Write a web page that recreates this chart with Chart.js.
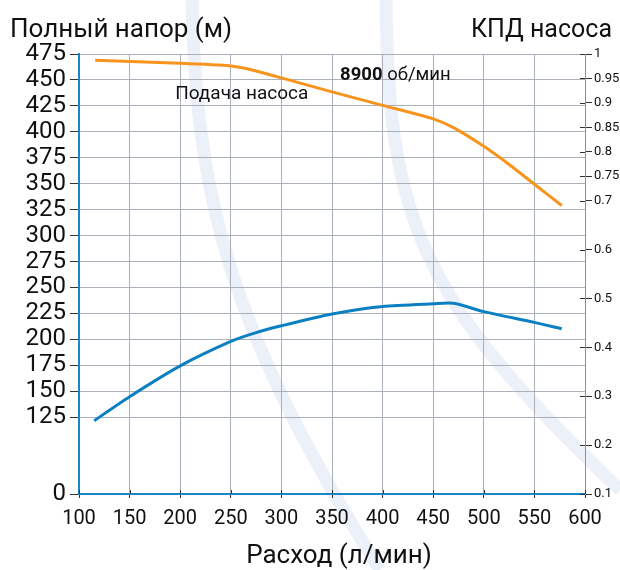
<!DOCTYPE html>
<html lang="ru">
<head>
<meta charset="UTF-8">
<title>Характеристика насоса</title>
<script src="https://cdn.jsdelivr.net/npm/chart.js"></script>
<style>
  html, body { margin: 0; padding: 0; background: #fff; }
  #wrap { width: 620px; height: 570px; }
</style>
</head>
<body>
<div id="wrap"><canvas id="pumpChart" width="620" height="570"></canvas></div>
<script>
// Подача насоса: расход (л/мин) -> полный напор (м)
const headFlow   = [116, 200, 250, 265, 300, 350, 400, 450, 470, 500, 525, 550, 577];
const headValues = [469, 466, 463.5, 461, 452, 438.5, 425.5, 412.5, 404, 386, 368.5, 349.5, 329];

// КПД насоса: расход (л/мин) -> КПД
const effFlow   = [115, 150, 200, 250, 275, 300, 350, 400, 450, 470, 500, 550, 577];
const effValues = [0.25, 0.299, 0.362, 0.412, 0.43, 0.444, 0.468, 0.4835, 0.489, 0.49, 0.473, 0.451, 0.438];

const flowTicks = [100, 150, 200, 250, 300, 350, 400, 450, 500, 550, 600];
const headTicks = [0, 125, 150, 175, 200, 225, 250, 275, 300, 325, 350, 375, 400, 425, 450, 475];
const effTicks  = [0.1, 0.2, 0.3, 0.4, 0.5, 0.6, 0.7, 0.75, 0.8, 0.85, 0.9, 0.95, 1];

// the head axis is broken: "0" sits at the bottom, right below 125
const HEAD_BREAK = 51;

const FONT = 'Roboto, "Noto Sans", sans-serif';
const GRID = '#aab0ba';
const AXIS_BLUE = '#1a86c8';

function toPoints(xs, ys) {
  return xs.map((x, i) => ({ x: x, y: ys[i] }));
}

// watermark, titles, labels and the inner half of the ticks
const decor = {
  id: 'decor',
  beforeDraw(chart) {
    const ctx = chart.ctx;
    ctx.save();
    ctx.strokeStyle = '#ecf0f9';
    ctx.lineWidth = 13;
    ctx.beginPath();
    ctx.moveTo(192, 0);
    ctx.bezierCurveTo(196, 200, 230, 330, 380, 570);
    ctx.stroke();
    ctx.beginPath();
    ctx.moveTo(386, 0);
    ctx.bezierCurveTo(388, 220, 420, 300, 620, 490);
    ctx.stroke();
    ctx.restore();
  },
  afterDraw(chart) {
    const ctx = chart.ctx;
    const x = chart.scales.x, yL = chart.scales.y, yR = chart.scales.y1;
    ctx.save();

    ctx.strokeStyle = '#333';
    ctx.lineWidth = 1;
    ctx.beginPath();
    effTicks.forEach(v => {
      const py = Math.round(yR.getPixelForValue(v)) + 0.5;
      ctx.moveTo(yR.left - 5, py);
      ctx.lineTo(yR.left, py);
    });
    flowTicks.forEach(v => {
      const px = Math.round(x.getPixelForValue(v)) + 0.5;
      ctx.moveTo(px, x.top - 4);
      ctx.lineTo(px, x.top);
    });
    ctx.stroke();

    ctx.fillStyle = '#111';
    ctx.textBaseline = 'alphabetic';
    ctx.font = '26px ' + FONT;
    ctx.textAlign = 'left';
    ctx.fillText('Полный напор (м)', 10, 37);
    ctx.font = '25px ' + FONT;
    ctx.textAlign = 'right';
    ctx.fillText('КПД насоса', 612, 37);
    ctx.font = '26px ' + FONT;
    ctx.textAlign = 'center';
    ctx.fillText('Расход (л/мин)', 339, 563);

    ctx.textAlign = 'left';
    ctx.font = 'bold 18.5px ' + FONT;
    const sx = x.getPixelForValue(358), sy = yL.getPixelForValue(450);
    ctx.fillText('8900', sx, sy);
    const w = ctx.measureText('8900').width;
    ctx.font = '18.5px ' + FONT;
    ctx.fillText(' об/мин', sx + w, sy);

    ctx.font = '19px ' + FONT;
    ctx.fillText('Подача насоса', x.getPixelForValue(195), yL.getPixelForValue(432));
    ctx.restore();
  }
};

new Chart(document.getElementById('pumpChart'), {
  type: 'line',
  data: {
    datasets: [
      {
        label: 'Полный напор',
        data: toPoints(headFlow, headValues),
        yAxisID: 'y',
        borderColor: '#f7941d',
        borderWidth: 3,
        pointRadius: 0,
        tension: 0.25
      },
      {
        label: 'КПД насоса',
        data: toPoints(effFlow, effValues),
        yAxisID: 'y1',
        borderColor: '#0a80c3',
        borderWidth: 3,
        pointRadius: 0,
        tension: 0.25
      }
    ]
  },
  options: {
    responsive: false,
    animation: false,
    layout: { padding: { top: 54, left: 0, right: 0, bottom: 0 } },
    plugins: {
      legend: { display: false },
      tooltip: { enabled: false }
    },
    scales: {
      x: {
        type: 'linear',
        min: 100,
        max: 600,
        afterBuildTicks: s => { s.ticks = flowTicks.map(v => ({ value: v })); },
        afterFit: s => { s.height = 76; },
        grid: { color: GRID, tickColor: '#333', tickLength: 4 },
        border: { color: AXIS_BLUE, width: 2 },
        ticks: { color: '#111', font: { family: FONT, size: 20 }, padding: 9, maxRotation: 0, autoSkip: false }
      },
      y: {
        type: 'linear',
        position: 'left',
        min: HEAD_BREAK,
        max: 475,
        afterBuildTicks: s => {
          s.ticks = headTicks.map(v => ({ value: v === 0 ? HEAD_BREAK : v }));
        },
        afterFit: s => { s.width = 79; },
        grid: { color: GRID, tickColor: '#333', tickLength: 9 },
        border: { color: AXIS_BLUE, width: 2 },
        ticks: {
          color: '#111',
          font: { family: FONT, size: 24 },
          padding: 4,
          autoSkip: false,
          callback: v => (v === HEAD_BREAK ? '0' : String(v))
        }
      },
      y1: {
        type: 'linear',
        position: 'right',
        min: 0.1,
        max: 1,
        afterBuildTicks: s => { s.ticks = effTicks.map(v => ({ value: v })); },
        afterFit: s => { s.width = 35; },
        grid: { drawOnChartArea: false, tickColor: '#333', tickLength: 7 },
        border: { color: '#8a919c', width: 1 },
        ticks: {
          color: '#111',
          font: { family: FONT, size: 13 },
          padding: 2,
          autoSkip: false,
          callback: v => String(v)
        }
      }
    }
  },
  plugins: [decor]
});
</script>
</body>
</html>
